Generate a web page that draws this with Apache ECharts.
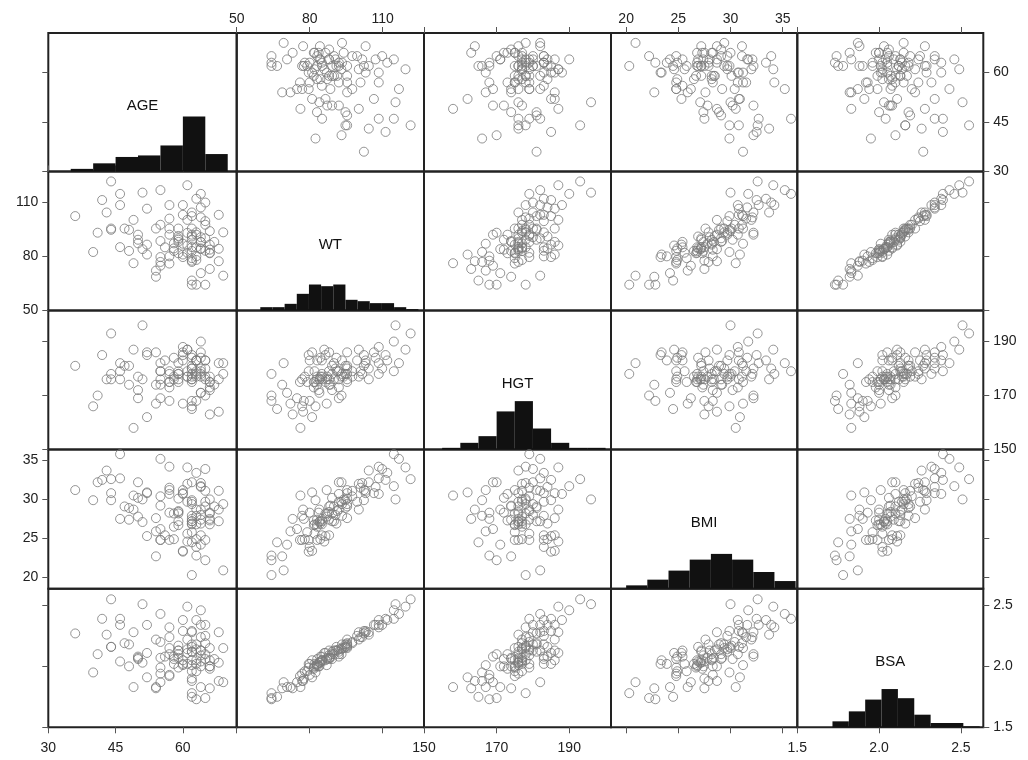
<!DOCTYPE html>
<html><head><meta charset="utf-8">
<script src="https://cdn.jsdelivr.net/npm/echarts@6/dist/echarts.min.js"></script>
<style>html,body{margin:0;padding:0;background:#fff}#c{width:1028px;height:760px}</style>
</head><body><div id="c"></div>
<script>
const VARS = ['AGE','WT','HGT','BMI','BSA'];
const AGE = [69,65,63,62,62,54,64,66,54,55,68,62,62,60,55,55,49,63,57,62,
  68,66,65,66,64,59,58,40,63,61,62,64,60,57,58,66,52,51,48,
  62,66,64,62,58,59,55,52,50,50,46,63,61,64,60,56,59,67,
  69,64,62,63,66,59,50,48,44,41,65,62,61,63,59,57,
  62,65,65,59,57,54,55,47,44,
  68,64,62,62,61,60,57,49,43,36,
  64,65,60,57,46,52,
  63,64,46,42,
  61,55,51,44];
const WT = [69.3,64.3,64.3,64.3,66.6,68.7,70.7,73.0,72.1,74.8,77.3,76.9,77.6,79.6,76.9,79.6,76.2,78.0,76.0,79.0,
  84.2,81.7,83.1,83.7,84.4,81.7,84.4,82.4,80.0,82.0,83.0,84.0,81.0,80.0,83.0,82.0,81.0,84.0,83.0,
  85.1,86.5,87.9,89.2,87.2,89.2,88.5,86.5,87.2,89.2,85.1,85.0,86.0,88.0,87.0,85.0,88.0,88.0,
  93.3,90.6,92.0,93.3,94.0,91.3,92.0,94.7,94.7,93.1,90.0,91.0,93.0,92.0,90.0,92.0,
  95.4,97.5,99.5,95.4,95.4,95.4,97.5,95.4,95.4,
  103.0,101.6,102.3,104.3,100.2,103.0,100.9,100.2,104.3,102.3,
  107.1,109.8,108.4,108.4,108.4,106.4,
  111.9,114.6,114.6,111.2,
  119.4,116.7,115.3,121.5];
const HGT = [182,170,168,178,165,174,171,163,167,169,164,166,168,185,176,179,158,177,175,175,
  176,173,183,172,177,175,184,166,183,179,176,171,186,168,177,175,162,176,174,
  177,175,179,181,176,178,174,185,177,172,176,178,187,186,167,183,176,174,
  178,180,176,183,177,179,169,181,178,170,176,184,177,179,182,173,
  180,177,183,178,175,186,179,181,176,
  182,178,185,180,177,183,179,187,176,181,
  184,180,188,178,182,186,
  183,190,179,185,
  187,182,196,193];
const BMI = [20.9,22.2,22.8,20.3,24.5,22.7,24.2,27.5,25.9,26.2,28.7,27.9,27.5,23.3,24.8,24.8,30.5,24.9,24.8,25.8,
  27.2,27.3,24.8,28.3,26.9,26.7,24.9,29.9,23.9,25.6,26.8,28.7,23.4,28.3,26.5,26.8,30.9,27.1,27.4,
  27.2,28.2,27.4,27.2,28.2,28.2,29.2,25.3,27.8,30.2,27.5,26.8,24.6,25.4,31.2,25.4,28.4,29.1,
  29.4,28.0,29.7,27.9,30.0,28.5,32.2,28.9,29.9,32.2,29.1,26.9,29.7,28.7,27.2,30.7,
  29.4,31.1,29.7,30.1,31.2,27.6,30.4,29.1,30.8,
  31.1,32.1,29.9,32.2,32.0,30.8,31.5,28.7,33.7,31.2,
  31.6,33.9,30.7,34.2,32.7,30.8,
  33.4,31.7,35.8,32.5,
  34.1,35.2,30.0,32.6];
const BSA = [1.87,1.74,1.73,1.78,1.75,1.82,1.83,1.82,1.83,1.87,1.88,1.88,1.90,2.02,1.94,1.99,1.83,1.96,1.92,1.96,
  2.03,1.98,2.06,2.00,2.04,1.99,2.08,1.95,2.02,2.02,2.01,2.00,2.05,1.93,2.02,2.00,1.91,2.03,2.00,
  2.05,2.05,2.09,2.12,2.06,2.10,2.07,2.11,2.07,2.06,2.04,2.05,2.11,2.13,2.01,2.08,2.07,2.06,
  2.15,2.13,2.12,2.18,2.15,2.13,2.08,2.18,2.16,2.10,2.10,2.16,2.14,2.14,2.13,2.10,
  2.18,2.19,2.25,2.17,2.15,2.22,2.20,2.19,2.16,
  2.28,2.24,2.29,2.28,2.22,2.29,2.24,2.28,2.26,2.27,
  2.34,2.34,2.38,2.32,2.34,2.34,
  2.38,2.46,2.39,2.39,
  2.49,2.43,2.51,2.55];

// axis ranges and tick labels
const AXIS_MIN = [30, 50, 150, 18.55, 1.5];
const AXIS_MAX = [72, 127, 201.5, 36.4, 2.637];
const TICKS = [[30,45,60],[50,80,110],[150,170,190],[20,25,30,35],[1.5,2.0,2.5]];
const TICK_DECIMALS = [0,0,0,0,1];

// histograms (percent of observations per bin)
const HIST_START = [35, 59.7, 155, 20, 1.715];
const HIST_WIDTH = [5, 5, 5, 2.03, 0.1];
const AGE_HIST = [1.9, 5.9, 10.5, 11.6, 18.8, 39.8, 12.6];
const WT_HIST = [2.4, 2.4, 4.8, 12.0, 18.7, 17.5, 18.7, 7.7, 6.7, 5.3, 5.3, 2.4, 1.0];
const HGT_HIST = [1.2, 4.8, 9.6, 27.4, 34.8, 15.1, 4.8, 1.2, 1.2];
const BMI_HIST = [2.4, 6.5, 13.0, 20.9, 25.0, 20.9, 12.0, 5.5];
const BSA_HIST = [4.3, 11.5, 20.0, 27.6, 21.0, 9.1, 3.1, 3.1, 0.7];

const COLS = [AGE, WT, HGT, BMI, BSA];
const HISTS = [AGE_HIST, WT_HIST, HGT_HIST, BMI_HIST, BSA_HIST];

const colLeft = [48.3, 236.7, 424, 611, 797.3, 983.3];
const rowTop = [33, 171.5, 310.5, 449.5, 588.7, 727.3];
const FONT = 'Liberation Sans, Arial, Helvetica, sans-serif';

const grid = [], xAxis = [], yAxis = [], series = [], graphic = [];
for (let i = 0; i < 5; i++) {
  for (let j = 0; j < 5; j++) {
    const g = grid.length;
    grid.push({left: colLeft[j], top: rowTop[i], width: colLeft[j+1]-colLeft[j], height: rowTop[i+1]-rowTop[i],
      show: true, borderColor: '#222', borderWidth: 2, backgroundColor: 'transparent'});
    const isTop = i === 0, isBottom = i === 4, isLeft = j === 0, isRight = j === 4;
    xAxis.push({type: 'value', gridIndex: g, min: AXIS_MIN[j], max: AXIS_MAX[j],
      position: isTop ? 'top' : 'bottom',
      axisLine: {show: false}, splitLine: {show: false},
      axisTick: {show: isTop || isBottom, length: 6, customValues: TICKS[j], lineStyle: {color: '#555', width: 1}},
      axisLabel: {show: (isTop && j % 2 === 1) || (isBottom && j % 2 === 0), customValues: TICKS[j],
        margin: isTop ? 7 : 14, fontSize: 14, fontFamily: FONT, color: '#222',
        formatter: (v) => Number(v).toFixed(TICK_DECIMALS[j])}});
    const yi = yAxis.length;
    yAxis.push({type: 'value', gridIndex: g, min: AXIS_MIN[i], max: AXIS_MAX[i],
      position: isLeft ? 'left' : 'right',
      axisLine: {show: false}, splitLine: {show: false},
      axisTick: {show: isLeft || isRight, length: 6, customValues: TICKS[i], lineStyle: {color: '#555', width: 1}},
      axisLabel: {show: (isLeft && i % 2 === 1) || (isRight && i % 2 === 0), customValues: TICKS[i],
        margin: 10, fontSize: 14, fontFamily: FONT, color: '#222',
        formatter: (v) => Number(v).toFixed(TICK_DECIMALS[i])}});
    if (i === j) {
      yAxis.push({type: 'value', gridIndex: g, min: 0, max: 100, show: false});
      const st = HIST_START[i], w = HIST_WIDTH[i];
      series.push({type: 'custom', xAxisIndex: g, yAxisIndex: yi + 1,
        data: HISTS[i].map((p, k) => [st + k * w, st + (k + 1) * w, p]),
        encode: {x: [0, 1], y: 2},
        renderItem: (params, api) => {
          const p0 = api.coord([api.value(0), 0]);
          const p1 = api.coord([api.value(1), api.value(2)]);
          return {type: 'rect', shape: {x: p0[0], y: p1[1], width: p1[0] - p0[0], height: p0[1] - p1[1]},
            style: {fill: '#111'}};
        }});
      graphic.push({type: 'text', x: (colLeft[i] + colLeft[i+1]) / 2, y: (rowTop[i] + rowTop[i+1]) / 2 + 3.5,
        style: {text: VARS[i], font: '15px ' + FONT, fill: '#111', textAlign: 'center', textVerticalAlign: 'middle'}});
    } else {
      series.push({type: 'scatter', xAxisIndex: g, yAxisIndex: yi,
        data: COLS[j].map((v, k) => [v, COLS[i][k]]),
        symbol: 'circle', symbolSize: 9,
        itemStyle: {color: 'rgba(0,0,0,0)', borderColor: '#7a7a7a', borderWidth: 1}});
    }
  }
}

const chart = echarts.init(document.getElementById('c'), null, {renderer: 'canvas'});
chart.setOption({animation: false, backgroundColor: '#fff', grid, xAxis, yAxis, series, graphic});
</script>
</body></html>
